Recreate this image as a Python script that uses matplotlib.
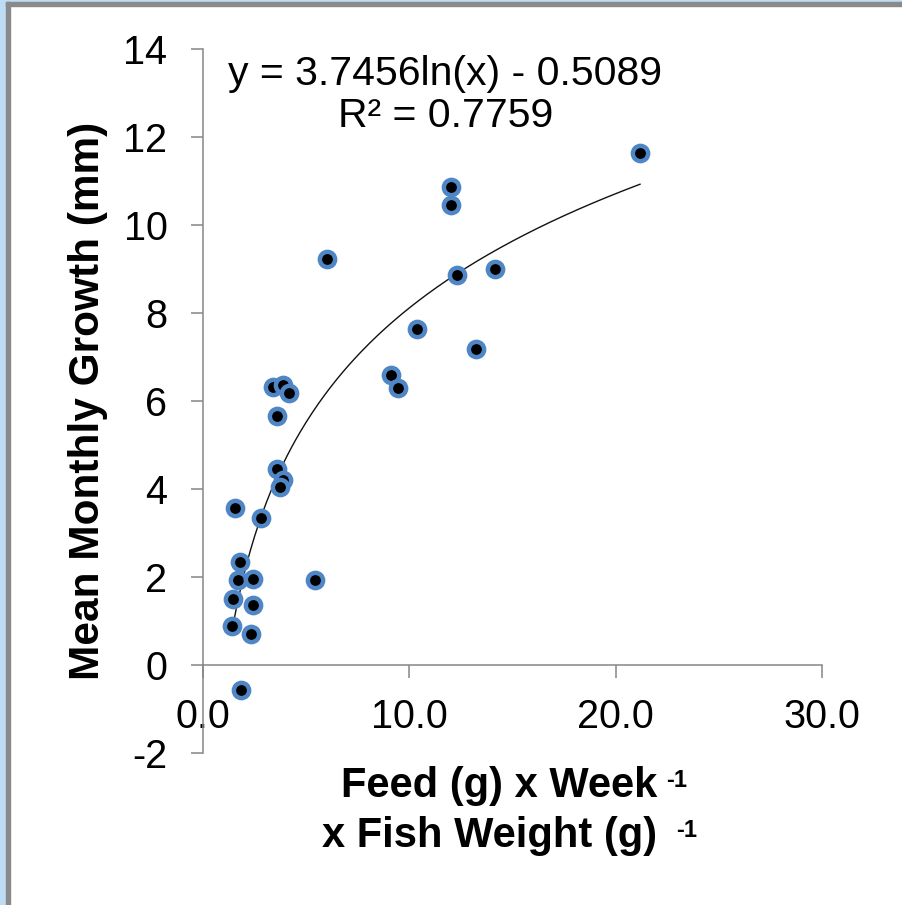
import numpy as np
import matplotlib
matplotlib.use('Agg')
import matplotlib.pyplot as plt
from matplotlib.patches import Rectangle

plt.rcParams['font.family'] = ['Liberation Sans', 'DejaVu Sans']
plt.rcParams['axes.unicode_minus'] = False

# data
feed = [21.18, 12.02, 12.02, 6.01, 12.31, 14.15, 10.37, 13.23, 9.11, 9.45,
        3.39, 3.88, 4.17, 3.59, 3.59, 3.88, 3.73, 2.81, 1.55, 1.79,
        1.70, 2.42, 5.43, 1.45, 2.42, 1.41, 2.33, 1.84]
growth = [11.64, 10.86, 10.45, 9.23, 8.86, 9.00, 7.64, 7.18, 6.59, 6.30,
          6.32, 6.36, 6.18, 5.66, 4.45, 4.20, 4.05, 3.34, 3.57, 2.34,
          1.93, 1.95, 1.93, 1.50, 1.36, 0.89, 0.70, -0.57]

# log trendline as printed on the chart
fit_a = 3.7456
fit_b = -0.5089
r_squared = 0.7759

x_ticks = [0, 10, 20, 30]
x_ticklabels = ['0.0', '10.0', '20.0', '30.0']
y_ticks = [-2, 0, 2, 4, 6, 8, 10, 12, 14]

W, H = 902, 905
fig = plt.figure(figsize=(W / 100, H / 100), dpi=100)
fig.patch.set_facecolor('white')

# window frame bits on the left / top edge
fig.patches.append(Rectangle((0, 0), 6 / W, 1, transform=fig.transFigure, color='#bddcf5', zorder=0))
fig.patches.append(Rectangle((0, 1 - 2 / H), 1, 2 / H, transform=fig.transFigure, color='#bddcf5', zorder=0))
fig.patches.append(Rectangle((6 / W, 0), 4 / W, 1 - 2 / H, transform=fig.transFigure, color='#8a8a8a', zorder=0))
fig.patches.append(Rectangle((6 / W, 1 - 6 / H), 1, 4 / H, transform=fig.transFigure, color='#8a8a8a', zorder=0))

ax = fig.add_axes([203 / W, (H - 753) / H, (822 - 203) / W, (753 - 49) / H])
ax.set_xlim(0, 30)
ax.set_ylim(-2, 14)

axis_grey = '#868686'
for side in ['top', 'right']:
    ax.spines[side].set_visible(False)
ax.spines['bottom'].set_position(('data', 0))
ax.spines['bottom'].set_color(axis_grey)
ax.spines['left'].set_color(axis_grey)
ax.spines['bottom'].set_linewidth(1.1)
ax.spines['left'].set_linewidth(1.1)

ax.set_xticks(x_ticks)
ax.set_xticklabels(x_ticklabels)
ax.set_yticks(y_ticks)
ax.tick_params(axis='x', direction='out', length=9.5, width=1.1, color=axis_grey,
               pad=14, labelsize=28.5)
ax.tick_params(axis='y', direction='out', length=8.6, width=1.1, color=axis_grey,
               pad=17, labelsize=28.5)

# trendline
xs = np.linspace(min(feed), max(feed), 200)
ax.plot(xs, fit_a * np.log(xs) + fit_b, color='#111111', lw=1.0, zorder=2)

ax.plot(feed, growth, 'o', ms=11, mfc='black', mec='#4f86c6', mew=3.2,
        linestyle='none', zorder=3, clip_on=False)

ax.text(11.75, 12.95, f'y = {fit_a}ln(x) - {abs(fit_b)}\nR² = {r_squared}',
        ha='center', va='center', fontsize=29.5, linespacing=1.15)

# axis titles
fig.text(88 / W, 1 - 401 / H, 'Mean Monthly Growth (mm)', rotation=90,
         ha='center', va='center', fontsize=30.5, fontweight='bold')

fig.text(657 / W, 1 - 797 / H, 'Feed (g) x Week', ha='right', va='baseline',
         fontsize=30, fontweight='bold')
fig.text(666 / W, 1 - 787 / H, '-1', ha='left', va='baseline',
         fontsize=17, fontweight='bold')
fig.text(657 / W, 1 - 847 / H, 'x Fish Weight (g)', ha='right', va='baseline',
         fontsize=30, fontweight='bold')
fig.text(676 / W, 1 - 837 / H, '-1', ha='left', va='baseline',
         fontsize=17, fontweight='bold')

fig.savefig('out.png', dpi=100)
